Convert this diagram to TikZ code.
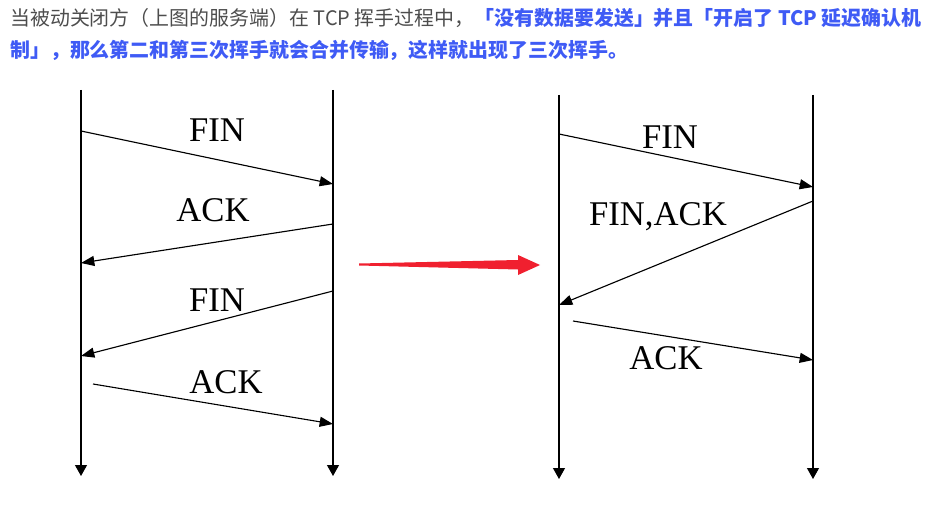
\documentclass[tikz,border=0pt]{standalone}
\usepackage{fontspec}
\setmainfont{Liberation Serif}
\newfontfamily\cjk{Noto Sans CJK SC}
\usetikzlibrary{arrows.meta}
\definecolor{txtgray}{HTML}{4D4D4D}
\definecolor{hlblue}{HTML}{3F5BF5}
\definecolor{bigred}{HTML}{F0202F}
\begin{document}
\begin{tikzpicture}[x=0.75pt,y=-0.75pt,
  life/.style={line width=0.9pt,-{Triangle[length=8.25pt,width=9pt]}},
  msg/.style={line width=0.85pt,-{Triangle[length=10pt,width=7.5pt]}},
  lbl/.style={font=\fontsize{26}{28}\selectfont,inner sep=0pt},
  para/.style={font=\cjk\fontsize{14.95}{16}\selectfont,inner sep=0pt,anchor=base west}]
\useasboundingbox (0,0) rectangle (935,506);
% text
\node[para,text=txtgray] (t1) at (10,26) {当被动关闭方（上图的服务端）在 TCP 挥手过程中，{\bfseries\color{hlblue}「没有数据要发送」并且「开启了 TCP 延迟确认机}};
\node[para,text=hlblue] (t2) at (10,58) {\bfseries 制」，那么第二和第三次挥手就会合并传输，这样就出现了三次挥手。};
% left diagram lifelines
\coordinate (LAt) at (81,90); \coordinate (LAb) at (81,476);
\coordinate (LBt) at (333,90); \coordinate (LBb) at (333,476);
\draw[life] (LAt) -- (LAb);
\draw[life] (LBt) -- (LBb);
\coordinate (l1s) at (81,131); \coordinate (l1e) at (333,184);
\coordinate (l2s) at (333,224); \coordinate (l2e) at (81,263);
\coordinate (l3s) at (333,291); \coordinate (l3e) at (81,356);
\coordinate (l4s) at (93,384); \coordinate (l4e) at (333,424);
\draw[msg] (l1s) -- (l1e);
\draw[msg] (l2s) -- (l2e);
\draw[msg] (l3s) -- (l3e);
\draw[msg] (l4s) -- (l4e);
\node[lbl] (lf1) at (217,130) {FIN};
\node[lbl] (la1) at (213,210) {ACK};
\node[lbl] (lf2) at (217,300) {FIN};
\node[lbl] (la2) at (226,382) {ACK};
% red arrow
\fill[bigred] (359,263.5) -- (518,260) -- (518,255) -- (540,265) -- (518,275) -- (518,269.5) -- (359,265.5) -- cycle;
% right diagram
\coordinate (RAt) at (559,95); \coordinate (RAb) at (559,479);
\coordinate (RBt) at (813,95); \coordinate (RBb) at (813,479);
\draw[life] (RAt) -- (RAb);
\draw[life] (RBt) -- (RBb);
\coordinate (r1s) at (559,134); \coordinate (r1e) at (813,187);
\coordinate (r2s) at (813,201); \coordinate (r2e) at (559,305);
\coordinate (r3s) at (573,321); \coordinate (r3e) at (813,360);
\draw[msg] (r1s) -- (r1e);
\draw[msg] (r2s) -- (r2e);
\draw[msg] (r3s) -- (r3e);
\node[lbl] (rf1) at (670,137) {FIN};
\node[lbl] (rfa) at (658,217) {FIN,ACK};
\node[lbl] (ra1) at (666,358) {ACK};
\end{tikzpicture}
\end{document}
